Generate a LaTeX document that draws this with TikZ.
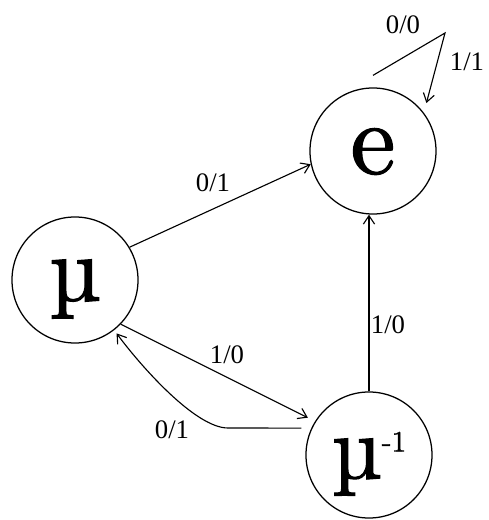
\documentclass[tikz,border=0pt]{standalone}
\usepackage{fontspec}
\setmainfont{Liberation Serif}
\newfontfamily\lmfont[FakeBold=1.2]{lmroman10-regular.otf}
\usetikzlibrary{arrows.meta}

\begin{document}
\begin{tikzpicture}[x=0.025cm, y=-0.025cm,
  state/.style={circle, draw, line width=0.9pt, minimum size=3.15cm, inner sep=0pt, text depth=0pt},
  lbl/.style={font=\fontsize{19}{19}\selectfont},
  arr/.style={line width=0.8pt, -{Straight Barb[length=6pt,width=8pt]}}]

  % Frame of the picture (pixel coordinates, y downwards)
  \useasboundingbox (0,0) rectangle (488,520);

  % States
  \node[state, font=\lmfont\fontsize{72}{72}\selectfont] (e)  at (373,151) {e};
  \node[state, font=\lmfont\fontsize{66}{66}\selectfont] (mu) at (75,280)  {µ};
  \node[state, font=\lmfont\fontsize{64}{64}\selectfont] (mi) at (369,455) {µ\raisebox{19pt}{\fontsize{21}{21}\selectfont -1}};

  % Transitions
  \draw[arr] (mu.31) -- (e.192);

  % self loop on e
  \coordinate (eloop) at (445,33);
  \draw[arr, shorten >=0.25cm] ([yshift=0.3cm]e.north) -- (eloop) -- (e.37);

  \draw[arr] (mi.north) -- (mi.north |- e.south);

  \draw[arr, shorten >=0.2cm] (mu.-44) -- (mi.148);

  % way back from mu^-1 to mu
  \coordinate (bend) at (228,428);
  \draw[arr, shorten >=0.1cm] ([xshift=-0.25cm]mi.155) -- (bend)
    .. controls (195,428) and (140,365) .. (mu.-52);

  % Labels
  \node[lbl] (l00)  at (403,25)  {0/0};
  \node[lbl] (l11)  at (467,62)  {1/1};
  \node[lbl] (l01a) at (213,183) {0/1};
  \node[lbl] (l10a) at (388,325) {1/0};
  \node[lbl] (l10b) at (227,355) {1/0};
  \node[lbl] (l01b) at (172,430) {0/1};

\end{tikzpicture}
\end{document}
